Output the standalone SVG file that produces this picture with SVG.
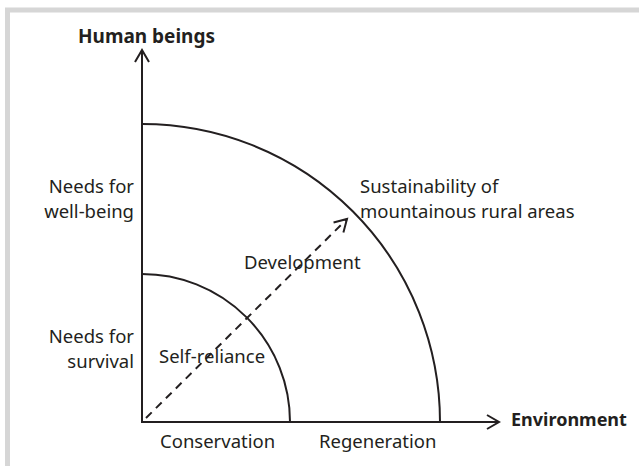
<svg xmlns="http://www.w3.org/2000/svg" width="639" height="466" viewBox="0 0 639 466">
<style>
.t{font-family:"Noto Sans","Open Sans","Liberation Sans",sans-serif;font-size:18.5px;fill:#231f20}
.b{font-weight:bold}
.ln{fill:none;stroke:#231f20;stroke-width:2}
.frame{fill:none;stroke:#d6d6d6;stroke-width:5}
</style>
<defs>
<marker id="open" markerWidth="16" markerHeight="16" refX="13" refY="8" orient="auto" markerUnits="userSpaceOnUse">
<path d="M1,1 L13,8 L1,15" fill="none" stroke="#231f20" stroke-width="2"/>
</marker>
</defs>
<rect width="639" height="466" fill="#fff"/>
<path class="frame" d="M7.5,466 V10 H639"/>
<g id="axes">
<line id="y-axis" class="ln" x1="142" y1="423" x2="142" y2="50" marker-end="url(#open)"/>
<line id="x-axis" class="ln" x1="141" y1="422" x2="499" y2="422" marker-end="url(#open)"/>
</g>
<g id="inner-arc"><path class="ln" d="M142,274 A148,148 0 0 1 290,422"/></g>
<g id="outer-arc"><path class="ln" d="M142,124 A298,298 0 0 1 440,422"/></g>
<g id="connectors">
<line class="ln" x1="146" y1="418" x2="347" y2="219" stroke-dasharray="8,6" marker-end="url(#open)"/>
</g>
<g id="labels">
<text class="t b" x="78" y="43" style="font-size:19px">Human beings</text>
<text class="t b" x="511" y="426" style="font-size:18px">Environment</text>
<text class="t" x="134" y="193" text-anchor="end">Needs for</text>
<text class="t" x="134" y="218" text-anchor="end">well-being</text>
<text class="t" x="134" y="343" text-anchor="end">Needs for</text>
<text class="t" x="134" y="368" text-anchor="end">survival</text>
<text class="t" x="160" y="448">Conservation</text>
<text class="t" x="319" y="448">Regeneration</text>
<text class="t" x="360" y="193">Sustainability of</text>
<text class="t" x="360" y="218">mountainous rural areas</text>
<text class="t" x="244" y="269">Development</text>
<text class="t" x="159" y="363">Self-reliance</text>
</g>
</svg>
